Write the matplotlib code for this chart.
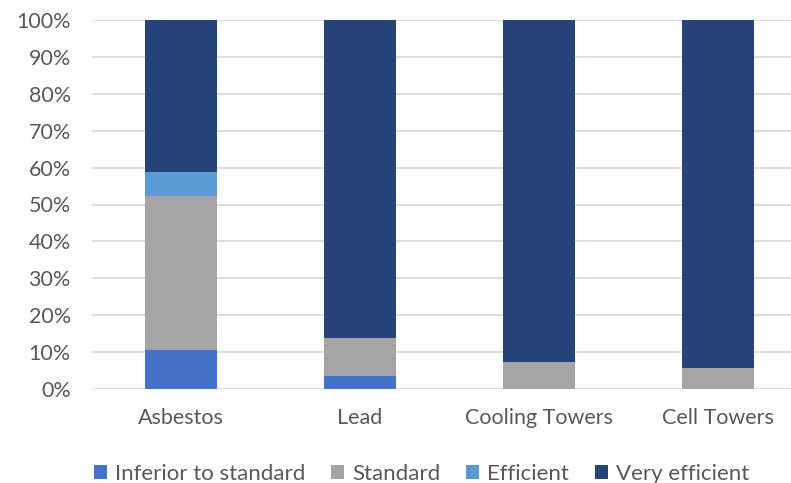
import matplotlib.pyplot as plt
import numpy as np

categories = ["Asbestos", "Lead", "Cooling Towers", "Cell Towers"]
series_names = ["Inferior to standard", "Standard", "Efficient", "Very efficient"]
inferior = [10.7, 3.6, 0.0, 0.0]
standard = [41.6, 10.3, 7.2, 5.6]
efficient = [6.6, 0.0, 0.0, 0.0]
very_efficient = [41.1, 86.1, 92.8, 94.4]

colors = ["#4472C4", "#A5A5A5", "#5B9BD5", "#264478"]
W, H = 791, 483

plt.rcParams['font.family'] = ['Lato', 'DejaVu Sans']
fig = plt.figure(figsize=(W / 100, H / 100), dpi=100)
# plot area in pixels: left 91.5, top 20, bottom 389 (extends past the right edge)
ax = fig.add_axes([91.5 / W, (H - 389) / H, (W - 91.5) / W, (389 - 20) / H])

x = np.arange(len(categories))
bottom = np.zeros(len(categories))
for name, vals, c in zip(series_names, [inferior, standard, efficient, very_efficient], colors):
    ax.bar(x, vals, 0.40, bottom=bottom, color=c, label=name, zorder=3)
    bottom += np.array(vals)

ax.set_ylim(0, 100)
ax.set_xlim(-0.5, -0.5 + (W - 91.5) / 179.0)
ax.set_yticks(np.arange(0, 101, 10))
ax.set_yticklabels([f"{v}%" for v in range(0, 101, 10)])
ax.set_xticks(x)
ax.set_xticklabels(categories)
ax.grid(axis='y', color='#D9D9D9', linewidth=1.2, zorder=0)
for s in ax.spines.values():
    s.set_visible(False)
ax.tick_params(length=0, labelsize=15.5, colors='#595959')
ax.tick_params(axis='y', pad=15)
ax.tick_params(axis='x', pad=14)

fig.legend(loc='center', bbox_to_anchor=(421.5 / W, 1 - 474 / H), ncol=4, frameon=False,
           fontsize=16, handlelength=0.6, handleheight=0.6, handletextpad=0.36,
           columnspacing=1.15, labelcolor='#595959')

fig.savefig("out.png", dpi=100)
